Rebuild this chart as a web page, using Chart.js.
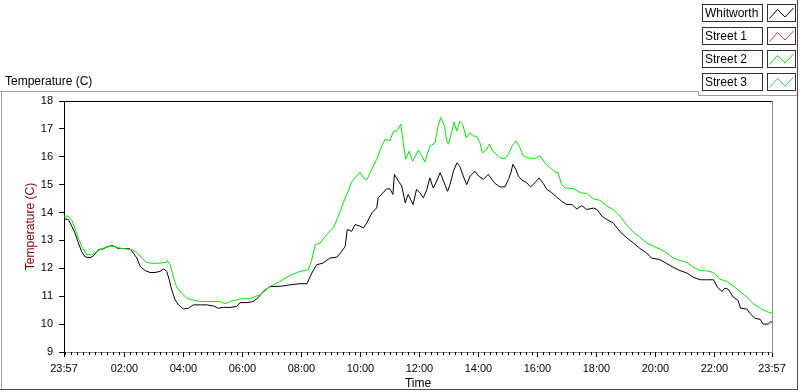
<!DOCTYPE html>
<html>
<head>
<meta charset="utf-8">
<script src="https://cdn.jsdelivr.net/npm/chart.js@4.4.1/dist/chart.umd.min.js"></script>
<style>
  html, body { margin: 0; padding: 0; background: #fff; }
  #wrap { position: relative; width: 800px; height: 392px; }
</style>
</head>
<body>
<div id="wrap"><canvas id="chart" width="800" height="392"></canvas></div>
<script>
// series shown in the legend
const seriesNames = ['Whitworth', 'Street 1', 'Street 2', 'Street 3'];
const seriesColors = ['#000000', '#ff3030', '#00ee00', '#30b0ff'];

// x axis: minutes elapsed since 23:57
const startClock = '23:57';
const tickLabels = ['23:57', '02:00', '04:00', '06:00', '08:00', '10:00', '12:00',
  '14:00', '16:00', '18:00', '20:00', '22:00', '23:57'];
const yTicks = [9, 10, 11, 12, 13, 14, 15, 16, 17, 18];

const whitworthMinutes = [0, 9, 16, 22, 29, 36, 43, 53, 60, 70, 80, 90, 100, 110, 121, 134, 141, 148, 155, 165,
  175, 185, 195, 203, 209, 214, 219, 226, 233, 243, 253, 263, 277, 290, 304, 314, 324, 338, 351, 358,
  372, 385, 395, 405, 419, 433, 446, 460, 480, 494, 504, 514, 527, 541, 555, 565, 572, 576, 585, 592,
  602, 609, 616, 626, 636, 639, 649, 656, 663, 669, 672, 680, 687, 694, 700, 710, 717, 724, 731, 738,
  744, 751, 758, 765, 772, 780, 785, 792, 799, 805, 812, 819, 826, 836, 843, 853, 863, 870, 877, 887,
  897, 904, 909, 913, 919, 924, 931, 941, 949, 958, 966, 975, 982, 992, 1002, 1012, 1022, 1033, 1043, 1053,
  1063, 1077, 1084, 1094, 1104, 1117, 1131, 1145, 1158, 1170, 1185, 1195, 1212, 1226, 1239, 1253, 1267, 1280, 1294, 1307,
  1321, 1329, 1338, 1344, 1351, 1361, 1371, 1376, 1389, 1395, 1405, 1416, 1422, 1433, 1437, 1440];
const whitworthTemps = [13.78, 13.75, 13.5, 13.28, 12.92, 12.6, 12.41, 12.38, 12.45, 12.67, 12.7, 12.79, 12.81, 12.71, 12.71, 12.7, 12.55, 12.37, 12.07, 11.92,
  11.85, 11.85, 11.89, 11.98, 11.89, 11.59, 11.23, 10.87, 10.69, 10.54, 10.57, 10.69, 10.69, 10.69, 10.65, 10.57, 10.6, 10.6, 10.63, 10.77,
  10.77, 10.81, 10.95, 11.17, 11.35, 11.35, 11.37, 11.41, 11.45, 11.45, 11.83, 12.13, 12.19, 12.37, 12.4, 12.61, 12.79, 13.39, 13.33, 13.57,
  13.51, 13.45, 13.63, 13.99, 14.17, 14.53, 14.71, 14.85, 14.85, 14.65, 15.37, 15.13, 14.95, 14.35, 14.65, 14.29, 14.83, 14.71, 14.53, 14.83,
  15.24, 14.88, 15.13, 15.43, 15.13, 14.76, 15.0, 15.48, 15.78, 15.66, 15.31, 15.0, 15.31, 15.48, 15.31, 15.19, 15.37, 15.19, 15.04, 14.92,
  14.92, 15.19, 15.43, 15.73, 15.55, 15.31, 15.17, 15.07, 14.92, 15.07, 15.24, 15.04, 14.83, 14.71, 14.56, 14.41, 14.29, 14.29, 14.13, 14.25,
  14.11, 14.16, 14.11, 13.87, 13.75, 13.63, 13.31, 13.09, 12.91, 12.73, 12.55, 12.37, 12.31, 12.17, 12.04, 11.92, 11.83, 11.68, 11.59, 11.59,
  11.59, 11.33, 11.17, 11.29, 11.25, 10.97, 10.85, 10.57, 10.54, 10.39, 10.21, 10.17, 10.0, 10.0, 10.09, 10.06];

const street2Minutes = [0, 9, 16, 22, 29, 36, 46, 56, 63, 73, 87, 100, 111, 124, 138, 148, 158, 168, 182, 195,
  208, 210, 216, 222, 229, 239, 250, 260, 277, 297, 317, 328, 338, 358, 378, 399, 419, 439, 460, 480,
  497, 504, 511, 521, 534, 548, 558, 568, 578, 585, 595, 602, 609, 616, 626, 636, 646, 653, 663, 670,
  677, 685, 690, 695, 702, 709, 721, 728, 734, 744, 755, 760, 766, 774, 778, 782, 789, 793, 799, 805,
  811, 818, 826, 833, 839, 846, 851, 860, 865, 872, 880, 887, 897, 904, 911, 919, 926, 934, 944, 955,
  961, 968, 978, 989, 999, 1005, 1012, 1019, 1036, 1050, 1063, 1077, 1090, 1104, 1117, 1131, 1145, 1158, 1171, 1185,
  1199, 1212, 1226, 1239, 1253, 1267, 1280, 1294, 1307, 1321, 1334, 1348, 1361, 1375, 1389, 1402, 1416, 1429, 1440];
const street2Temps = [13.87, 13.87, 13.72, 13.45, 13.09, 12.79, 12.49, 12.49, 12.55, 12.67, 12.77, 12.79, 12.73, 12.7, 12.67, 12.57, 12.37, 12.21, 12.17, 12.19,
  12.21, 12.28, 12.13, 11.71, 11.33, 11.11, 10.93, 10.87, 10.81, 10.81, 10.81, 10.73, 10.81, 10.9, 10.92, 11.05, 11.35, 11.53, 11.75, 11.89,
  11.95, 12.31, 12.85, 12.91, 13.21, 13.45, 13.87, 14.35, 14.77, 15.09, 15.31, 15.45, 15.24, 15.18, 15.56, 15.91, 16.38, 16.63, 16.57, 16.92,
  16.92, 17.17, 16.5, 15.91, 16.2, 15.84, 16.24, 16.03, 15.81, 16.38, 16.5, 17.04, 17.4, 17.1, 16.6, 16.45, 16.92, 17.25, 16.92, 17.28,
  17.17, 16.68, 16.86, 16.74, 16.74, 16.5, 16.14, 16.27, 16.45, 16.2, 16.09, 15.96, 15.93, 16.09, 16.38, 16.57, 16.38, 16.03, 15.96, 15.93,
  15.96, 16.03, 15.78, 15.6, 15.45, 15.43, 15.0, 14.88, 14.86, 14.71, 14.68, 14.49, 14.44, 14.23, 14.11, 13.87, 13.54, 13.29, 13.12, 12.91,
  12.79, 12.69, 12.55, 12.37, 12.28, 12.21, 12.04, 11.92, 11.91, 11.85, 11.61, 11.53, 11.37, 11.17, 10.97, 10.73, 10.57, 10.45, 10.39];

function clockToMin(s) {
  const [h, m] = s.split(':').map(Number);
  return h * 60 + m;
}
const startMin = clockToMin(startClock);
const tickValues = tickLabels.map((t, i) => {
  if (i === tickLabels.length - 1) return 1440;
  return (clockToMin(t) - startMin + 1440) % 1440;
});

function points(xs, ys) {
  return xs.map((x, i) => ({ x: x, y: ys[i] }));
}

const FONT = '"Liberation Sans", Arial, sans-serif';

const framePlugin = {
  id: 'frame',
  afterDraw(chart) {
    const ctx = chart.ctx;
    const a = chart.chartArea;
    const xs = chart.scales.x;
    ctx.save();
    ctx.lineWidth = 1;

    // plot frame: top black, right gray
    ctx.strokeStyle = '#000';
    ctx.beginPath();
    ctx.moveTo(a.left, a.top + 0.5);
    ctx.lineTo(a.right, a.top + 0.5);
    ctx.stroke();
    ctx.strokeStyle = '#8a8a8a';
    ctx.beginPath();
    ctx.moveTo(Math.round(a.right) + 0.5, a.top);
    ctx.lineTo(Math.round(a.right) + 0.5, a.bottom);
    ctx.stroke();

    // minor ticks every 12 minutes of clock time
    ctx.strokeStyle = '#000';
    ctx.beginPath();
    for (let m = (1440 - startMin) % 12; m <= 1440; m += 12) {
      const px = Math.round(xs.getPixelForValue(m)) + 0.5;
      ctx.moveTo(px, a.bottom);
      ctx.lineTo(px, a.bottom + 3);
    }
    ctx.stroke();

    // panel borders
    ctx.strokeStyle = '#a0a0a0';
    ctx.beginPath();
    ctx.moveTo(0, 91.5); ctx.lineTo(698.5, 91.5); ctx.lineTo(698.5, 95.5); ctx.lineTo(797, 95.5);
    ctx.moveTo(1.5, 91.5); ctx.lineTo(1.5, 390);
    ctx.stroke();
    ctx.strokeStyle = '#505050';
    ctx.beginPath();
    ctx.moveTo(797.5, 0); ctx.lineTo(797.5, 390);
    ctx.moveTo(0, 389.5); ctx.lineTo(798, 389.5);
    ctx.stroke();

    // top-left label
    ctx.fillStyle = '#000';
    ctx.font = '12px ' + FONT;
    ctx.textBaseline = 'middle';
    ctx.textAlign = 'left';
    ctx.fillText('Temperature (C)', 5, 82);

    // legend
    seriesNames.forEach((name, i) => {
      const top = 4.5 + i * 23;
      ctx.fillStyle = '#fff';
      ctx.fillRect(702.5, top, 60, 17);
      ctx.fillRect(767.5, top, 28, 17);
      ctx.strokeStyle = '#303030';
      ctx.strokeRect(702.5, top, 60, 17);
      ctx.strokeRect(767.5, top, 28, 17);
      ctx.fillStyle = '#000';
      ctx.fillText(name, 705, top + 9);
      ctx.strokeStyle = seriesColors[i];
      ctx.beginPath();
      ctx.moveTo(769.5, top + 14);
      ctx.lineTo(777.5, top + 5);
      ctx.lineTo(785, top + 12.5);
      ctx.lineTo(793.5, top + 3.5);
      ctx.stroke();
    });
    ctx.restore();
  }
};

new Chart(document.getElementById('chart'), {
  type: 'line',
  data: {
    datasets: [
      {
        label: seriesNames[0],
        data: points(whitworthMinutes, whitworthTemps),
        borderColor: seriesColors[0],
        borderWidth: 1,
        pointRadius: 0,
        tension: 0,
        order: 1
      },
      {
        label: seriesNames[2],
        data: points(street2Minutes, street2Temps),
        borderColor: seriesColors[2],
        borderWidth: 1,
        pointRadius: 0,
        tension: 0,
        order: 0
      }
    ]
  },
  options: {
    responsive: false,
    animation: false,
    devicePixelRatio: 1,
    layout: { padding: { left: 0, top: 101, right: 28, bottom: 0 } },
    plugins: { legend: { display: false }, tooltip: { enabled: false } },
    scales: {
      x: {
        type: 'linear',
        min: 0,
        max: 1440,
        afterBuildTicks: s => { s.ticks = tickValues.map(v => ({ value: v })); },
        afterFit: s => { s.height = 40; },
        grid: { display: true, drawOnChartArea: false, drawTicks: true, tickLength: 5, tickColor: '#000', tickWidth: 1 },
        border: { display: true, color: '#8a8a8a', width: 1 },
        ticks: {
          autoSkip: false,
          maxRotation: 0,
          padding: 5,
          color: '#000',
          font: { family: FONT, size: 11 },
          callback: (v, i) => tickLabels[i]
        },
        title: { display: true, text: 'Time', color: '#000', font: { family: FONT, size: 12 }, padding: { top: 0, bottom: 1 } }
      },
      y: {
        min: 9,
        max: 18,
        afterBuildTicks: s => { s.ticks = yTicks.map(v => ({ value: v })); },
        afterFit: s => { s.width = 64; },
        grid: { display: true, drawOnChartArea: false, drawTicks: true, tickLength: 5, tickColor: '#000' },
        border: { display: true, color: '#000', width: 1 },
        ticks: { padding: 6, color: '#000', font: { family: FONT, size: 11 } },
        title: { display: true, text: 'Temperature (C)', color: '#800000', font: { family: FONT, size: 12 }, padding: { top: 23, bottom: 0 } }
      }
    }
  },
  plugins: [framePlugin]
});
</script>
</body>
</html>
